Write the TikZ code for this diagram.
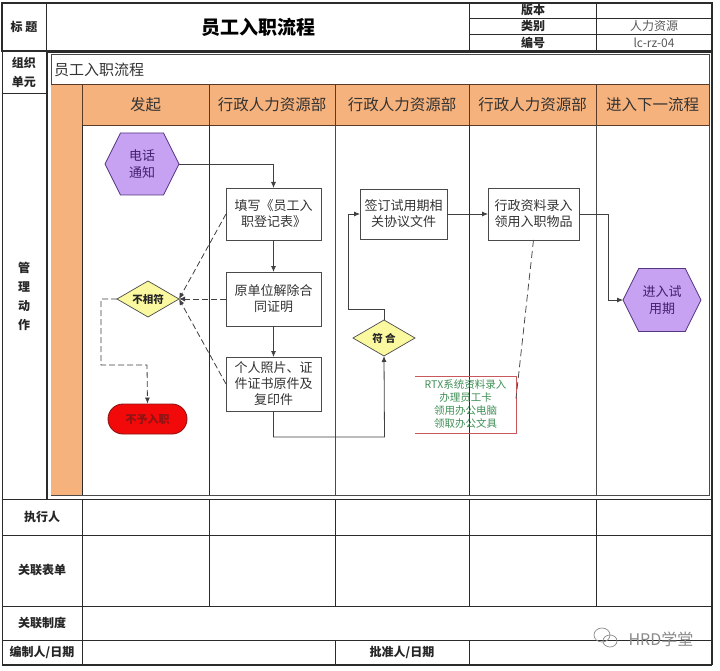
\documentclass[tikz,border=0pt]{standalone}
\usepackage{fontspec}
\setmainfont{Noto Sans CJK SC}
\usetikzlibrary{
  arrows.meta,
  positioning,
  shapes.geometric,
  shapes.symbols
}
\definecolor{gridline}{HTML}{2B2B2B}
\definecolor{orangehead}{HTML}{F6B27C}
\definecolor{headline}{HTML}{5A3A24}
\definecolor{purplefill}{HTML}{C7A1F2}
\definecolor{purpleline}{HTML}{54367F}
\definecolor{purpletext}{HTML}{40206E}
\definecolor{yellowfill}{HTML}{FBF9A0}
\definecolor{redfill}{HTML}{F20A0A}
\definecolor{redline}{HTML}{8E1414}
\definecolor{notered}{HTML}{C8585C}
\definecolor{notegreen}{HTML}{3F8F55}
\definecolor{boxline}{HTML}{4A4A4A}
\definecolor{marktext}{HTML}{8A8A8A}
\tikzset{
  frame/.style={draw=gridline, line width=1.6pt},
  grid/.style={draw=gridline, line width=0.9pt},
  label/.style={font=\fontsize{12}{19}\selectfont\bfseries, align=center, text=black!85},
  headcell/.style={
    draw=headline,
    fill=orangehead,
    line width=0.9pt,
    outer sep=0pt,
    minimum height=41pt,
    inner sep=0pt,
    font=\fontsize{15.5}{18}\selectfont,
    text=black!80
  },
  stepbox/.style={
    draw=boxline,
    fill=white,
    line width=0.9pt,
    outer sep=0pt,
    minimum width=95pt,
    minimum height=53pt,
    inner sep=0pt,
    align=center,
    font=\fontsize{13}{16}\selectfont,
    text=black!80
  },
  hexnode/.style={
    signal,
    signal to=east and west,
    signal pointer angle=127,
    draw=purpleline,
    fill=purplefill,
    line width=0.8pt,
    outer sep=0pt,
    inner sep=0pt,
    align=center,
    font=\fontsize{13}{17}\selectfont,
    text=purpletext
  },
  decision/.style={
    diamond,
    aspect=1.7,
    draw=boxline,
    fill=yellowfill,
    line width=0.7pt,
    outer sep=0pt,
    minimum width=62pt,
    minimum height=36pt,
    inner sep=0pt,
    font=\fontsize{10.5}{12}\selectfont\bfseries,
    text=black!85
  },
  stopnode/.style={
    draw=redline,
    fill=redfill,
    line width=0.9pt,
    rounded corners=15pt,
    minimum width=79pt,
    minimum height=30pt,
    inner sep=0pt,
    font=\fontsize{11}{13}\selectfont\bfseries,
    text=redline
  },
  notetext/.style={
    minimum width=101pt,
    minimum height=57pt,
    inner sep=0pt,
    outer sep=0pt,
    align=center,
    font=\fontsize{10.5}{13}\selectfont,
    text=notegreen
  },
  arrow/.style={-{Latex[length=6pt,width=5pt]}, line width=0.8pt, draw=black!75},
  dashedarrow/.style={arrow, dashed, dash pattern=on 6pt off 3pt},
  dashedline/.style={line width=0.8pt, draw=black!70, dash pattern=on 7pt off 4pt}
}
\begin{document}
\begin{tikzpicture}[x=1pt, y=-1pt]
  \useasboundingbox (0,0) rectangle (720,671);
  \fill[white] (0,0) rectangle (720,671);

  % top table
  \draw[frame] (2,3) rectangle (712,51);
  \draw[grid] (46,3) -- (46,499);
  \draw[grid] (469,3) -- (469,51);
  \draw[grid] (596,3) -- (596,51);
  \draw[grid] (469,18) -- (712,18);
  \draw[grid] (469,34) -- (712,34);
  \draw[grid] (2,93) -- (46,93);
  \draw[grid] (2,3) -- (2,665);

  \node[label] (biaoti) at (24,27) {标 题};
  \node[font=\fontsize{19}{22}\selectfont\bfseries] (title) at (258,27) {员工入职流程};
  \node[label] (banben) at (533,10.5) {版本};
  \node[label] (leibie) at (533,26) {类别};
  \node[label] (bianhao) at (533,42.5) {编号};
  \node[font=\fontsize{12}{14}\selectfont, text=black!65] (hr) at (654,26) {人力资源};
  \node[font=\fontsize{12}{14}\selectfont, text=black!65] (code) at (654,42.5) {lc-rz-04};
  \node[label] (zuzhi) at (24,72) {组织\\单元};
  \node[label] (guanli) at (24,296) {管\\理\\动\\作};

  % panel
  \draw[draw=gridline, line width=0.7pt] (47,52) rectangle (712,499);
  \draw[draw=boxline, line width=1pt] (51,55) rectangle (709,495);
  \node[anchor=west, inner sep=0pt, font=\fontsize{15}{18}\selectfont, text=black!80] (paneltitle)
    at (54,69.5) {员工入职流程};
  \fill[orangehead] (51,84) rectangle (82,495);
  \draw[draw=headline, line width=0.9pt] (51,84) -- (709,84);
  \node[headcell, minimum width=127pt, anchor=north west] (head1) at (82,84) {发起};
  \node[headcell, minimum width=126pt, right=0pt of head1] (head2) {行政人力资源部};
  \node[headcell, minimum width=134pt, right=0pt of head2] (head3) {行政人力资源部};
  \node[headcell, minimum width=127pt, right=0pt of head3] (head4) {行政人力资源部};
  \node[headcell, minimum width=113pt, right=0pt of head4] (head5) {进入下一流程};

  \draw[grid] (82,125) -- (82,495);
  \draw[grid] (209,125) -- (209,495);
  \draw[draw=boxline, line width=1pt] (335,125) -- (335,495);
  \draw[grid] (469,125) -- (469,495);
  \draw[draw=boxline, line width=1pt] (596,125) -- (596,495);

  % flow nodes
  \node[hexnode, minimum width=74pt, minimum height=62pt] (phone) at (142,164) {电话\\通知};
  \node[stepbox, minimum height=52pt] (form) at (273.5,214) {填写《员工入\\职登记表》};
  \node[stepbox, minimum height=54pt, below=32pt of form] (release) {原单位解除合\\同证明};
  \node[stepbox, minimum height=54pt, below=31pt of release] (photos) {个人照片、证\\件证书原件及\\复印件};
  \node[decision] (mismatch) at (148,299) {不相符};
  \node[stopnode] (reject) at (147.5,419) {不予入职};
  \node[decision] (match) at (384,338) {符 合};
  \node[stepbox, minimum width=87pt, minimum height=50pt] (sign) at (403.5,214) {签订试用期相\\关协议文件};
  \node[stepbox, minimum width=91pt, minimum height=52pt, right=41pt of sign] (entry) {行政资料录入\\领用入职物品};
  \node[notetext] (note) at (465.5,404.5) {RTX系统资料录入\\办理员工卡\\领用办公电脑\\领取办公文具};
  \node[hexnode, minimum width=78pt, minimum height=63pt] (next) at (662,300) {进入试\\用期};

  \draw[notered, line width=0.9pt] (note.north west) -- (note.north east) -- (note.south east) -- (note.south west);

  % connectors
  \draw[arrow] (phone.east) -| (form.north);
  \draw[arrow] (form) -- (release);
  \draw[arrow] (release) -- (photos);
  \draw[dashedarrow] (form.west) -- (mismatch.east);
  \draw[dashedarrow] (release.west) -- (mismatch.east);
  \draw[dashedarrow] (photos.west) -- (mismatch.east);
  \draw[dashedarrow] (mismatch.west) -- ++(-16,0) |- ++(46,66) -- (reject.north);
  \draw[arrow] (photos.south) |- ++(111,26) -- (match.south);
  \draw[arrow] (match.north) -- ++(0,-11) -| ++(-36,-95) -- (sign.west);
  \draw[arrow] (sign) -- (entry);
  \draw[arrow] (entry.east) -- ++(29,0) |- (next.west);
  \draw[dashedline] (entry.south) -- ([yshift=6pt]note.east);

  % bottom table
  \draw[grid] (2,499) -- (712,499);
  \draw[grid] (2,535) -- (712,535);
  \draw[grid] (2,606) -- (712,606);
  \draw[grid] (2,640) -- (712,640);
  \draw[frame] (2,665) -- (712,665);
  \draw[frame] (712,3) -- (712,665);
  \draw[grid] (82,499) -- (82,665);
  \draw[grid] (209,499) -- (209,606);
  \draw[grid] (335,499) -- (335,606);
  \draw[grid] (469,499) -- (469,606);
  \draw[grid] (596,499) -- (596,606);
  \draw[grid] (335,640) -- (335,665);
  \draw[grid] (469,640) -- (469,665);

  \node[label] (executor) at (42,517) {执行人};
  \node[label] (forms) at (42,570.5) {关联表单};
  \node[label] (rules) at (42,623) {关联制度};
  \node[label] (author) at (42,652.5) {编制人/日期};
  \node[label] (approver) at (402,652.5) {批准人/日期};

  % watermark
  \draw[marktext, line width=0.7pt] (602,635) ellipse (8pt and 7pt);
  \draw[marktext, line width=0.7pt] (610,641) ellipse (7pt and 6pt);
  \node[font=\fontsize{16}{18}\selectfont, text=marktext] (mark) at (661,639) {HRD学堂};
\end{tikzpicture}
\end{document}
